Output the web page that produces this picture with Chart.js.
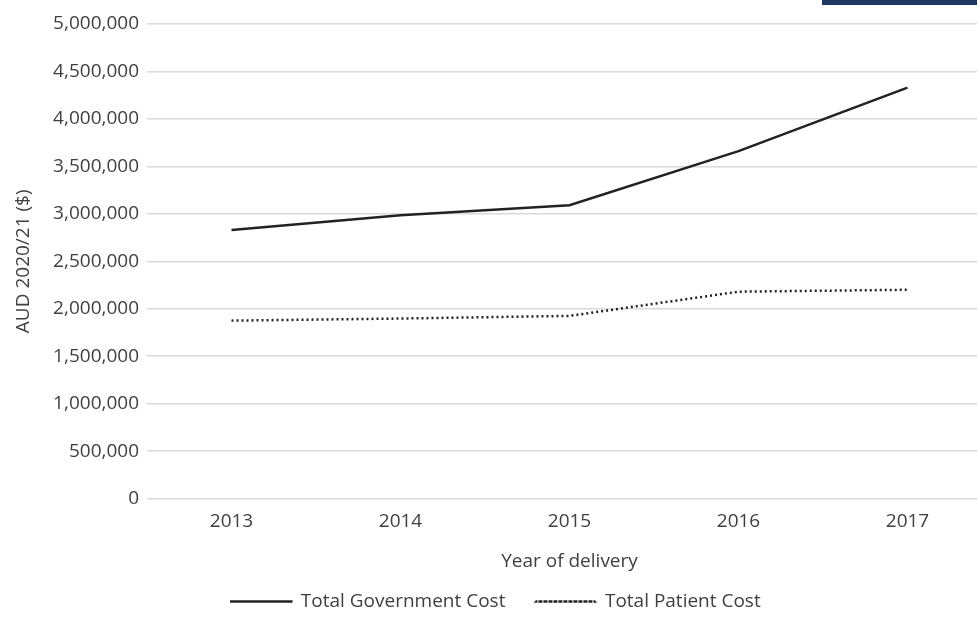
<!DOCTYPE html>
<html>
<head>
<meta charset="utf-8">
<script src="https://cdn.jsdelivr.net/npm/chart.js@4/dist/chart.umd.min.js"></script>
<style>
  html, body { margin: 0; padding: 0; background: #fff; overflow: hidden; }
  #wrap { position: relative; width: 977px; height: 621px; overflow: hidden; }
  #box { position: absolute; width: 1000px; height: 621px; left: 0; top: 0; }
  #banner { position: absolute; left: 822px; top: 0; width: 155px; height: 5px; background: #1f3564; }
</style>
</head>
<body>
<div id="wrap">
  <div id="box"><canvas id="c" width="1000" height="621"></canvas></div>
  <div id="banner"></div>
</div>
<script>
const years = ["2013", "2014", "2015", "2016", "2017"];
const governmentCost = [2830000, 2985000, 3090000, 3660000, 4330000];
const patientCost = [1875000, 1897000, 1925000, 2180000, 2200000];
const seriesNames = ["Total Government Cost", "Total Patient Cost"];
const yTitle = "AUD 2020/21 ($)";
const xTitle = "Year of delivery";

const FONT = "'Open Sans', 'Noto Sans', sans-serif";
const TEXT = "#404040";
const FS = 19;

new Chart(document.getElementById('c'), {
  type: 'line',
  data: {
    labels: years,
    datasets: [
      {
        label: seriesNames[0],
        data: governmentCost,
        borderColor: '#222222',
        backgroundColor: '#222222',
        borderWidth: 2.5,
        pointRadius: 0,
        tension: 0,
        fill: false
      },
      {
        label: seriesNames[1],
        data: patientCost,
        borderColor: '#222222',
        backgroundColor: '#222222',
        borderWidth: 2.5,
        borderDash: [2, 3],
        pointRadius: 0,
        tension: 0,
        fill: false
      }
    ]
  },
  options: {
    responsive: false,
    animation: false,
    layout: { padding: { left: 0, right: 8, top: 24, bottom: 0 } },
    plugins: {
      tooltip: { enabled: false },
      legend: {
        position: 'bottom',
        maxHeight: 61.4,
        labels: {
          color: TEXT,
          font: { family: FONT, size: FS },
          boxWidth: 60,
          boxHeight: 0.01,
          padding: 30
        }
      }
    },
    scales: {
      x: {
        offset: true,
        afterFit: (s) => { s.height = 63.4; },
        grid: { display: false, drawTicks: false },
        border: { display: false },
        ticks: { color: TEXT, font: { family: FONT, size: FS }, padding: 12 },
        title: {
          display: true, text: xTitle, color: TEXT,
          font: { family: FONT, size: FS }, padding: { top: 0, bottom: -10.6 }
        }
      },
      y: {
        min: 0, max: 5000000,
        afterFit: (s) => { s.width = 147; },
        grid: { color: '#d9d9d9', lineWidth: 1.5, drawTicks: false },
        border: { display: false },
        ticks: {
          stepSize: 500000, color: TEXT, padding: 8,
          font: { family: FONT, size: FS },
          callback: (v) => Number(v).toLocaleString('en-US')
        },
        title: {
          display: true, text: yTitle, color: TEXT,
          font: { family: FONT, size: FS }, padding: { top: 12, bottom: 0 }
        }
      }
    }
  }
});
</script>
</body>
</html>
